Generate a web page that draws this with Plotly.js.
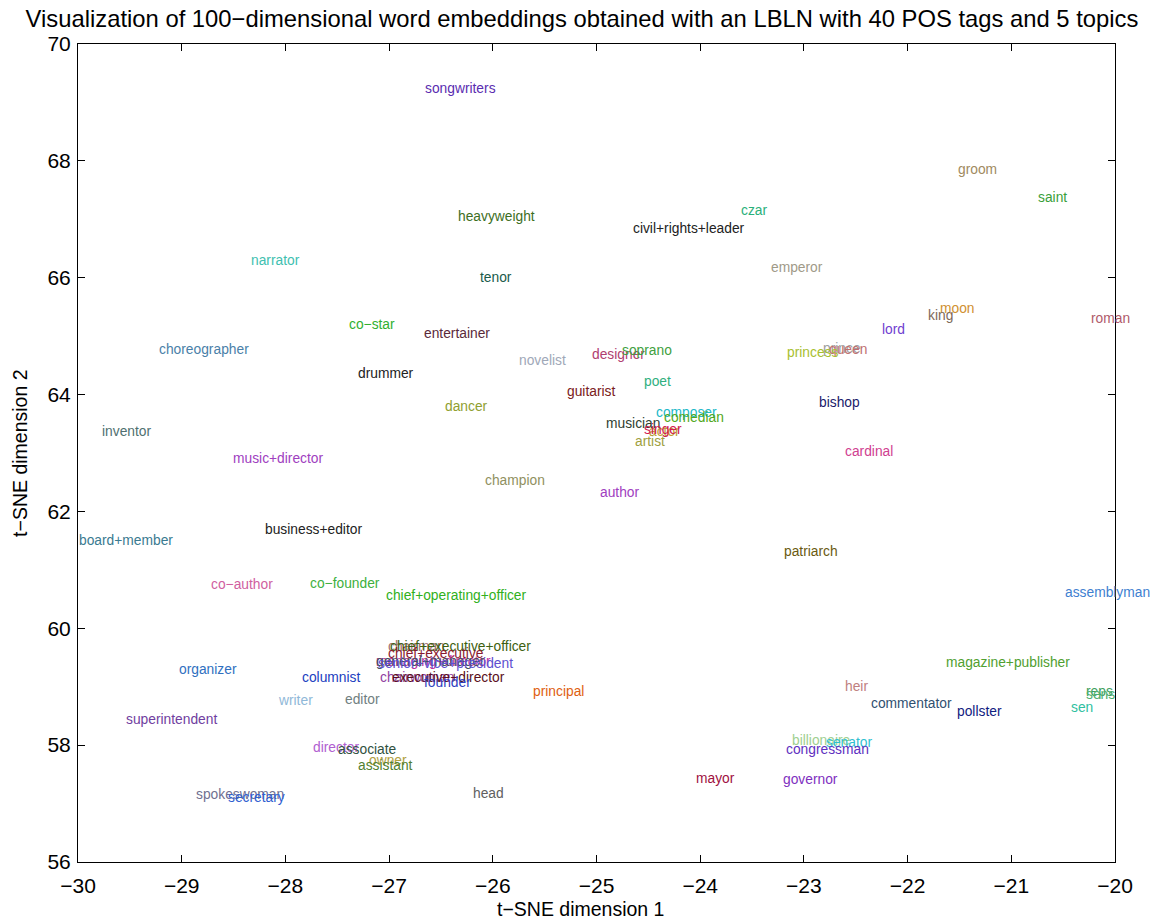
<!DOCTYPE html>
<html>
<head>
<meta charset="utf-8">
<script src="https://cdn.plot.ly/plotly-3.0.1.min.js"></script>
<style>html,body{margin:0;padding:0;background:#fff}#chart{width:1156px;height:923px}</style>
</head>
<body>
<div id="chart"></div>
<script>
const words = [
 "songwriters","groom","saint","czar","heavyweight","civil+rights+leader","narrator","emperor","tenor",
 "moon","king","roman","co−star","lord","entertainer","choreographer","prince","queen","princess",
 "designer","soprano","novelist","drummer","poet","guitarist","dancer","bishop","composer","comedian",
 "musician","actor","singer","artist","inventor","music+director","cardinal","champion","author",
 "business+editor","board+member","patriarch","co−author","co−founder","chief+operating+officer","assemblyman",
 "chairman","chief+executive+officer","chief+executive","managing+director","general+manager","senior+vice+president",
 "chairwoman","executive+director","founder","columnist","organizer","magazine+publisher","principal","heir",
 "commentator","pollster","reps","sens","sen","superintendent","writer","editor","billionaire","senator",
 "congressman","governor","mayor","director","associate","owner","assistant","spokeswoman","secretary","head"
];
const dim1 = [
 -26.654,-21.514,-20.743,-23.607,-26.336,-24.648,-28.332,-23.317,-26.123,
 -21.687,-21.803,-20.232,-27.387,-22.247,-26.663,-29.219,-22.816,-22.758,-23.163,
 -25.043,-24.754,-25.747,-27.300,-24.542,-25.284,-26.461,-22.854,-24.426,-24.349,
 -24.908,-24.493,-24.542,-24.629,-29.769,-28.505,-22.604,-26.075,-24.966,
 -28.197,-29.99,-23.192,-28.717,-27.763,-27.030,-20.482,
 -27.011,-26.990,-27.011,-27.126,-27.126,-27.107,
 -27.088,-26.972,-26.663,-27.840,-29.026,-21.630,-25.612,-22.604,
 -22.353,-21.524,-20.280,-20.280,-20.424,-29.537,-28.071,-27.425,-23.115,-22.787,
 -23.173,-23.201,-24.040,-27.734,-27.493,-27.194,-27.300,-28.862,-28.553,-26.191
];
const dim2 = [
 69.247,67.844,67.381,67.142,67.056,66.834,66.303,66.183,66.012,
 65.465,65.345,65.294,65.191,65.122,65.037,64.780,64.797,64.780,64.712,
 64.694,64.746,64.575,64.369,64.232,64.061,63.804,63.856,63.685,63.616,
 63.497,63.360,63.394,63.189,63.360,62.898,63.034,62.521,62.316,
 61.699,61.494,61.306,60.741,60.775,60.553,60.621,
 59.680,59.680,59.560,59.440,59.425,59.389,
 59.150,59.150,59.080,59.166,59.303,59.423,58.910,59.012,
 58.721,58.584,58.910,58.859,58.636,58.431,58.756,58.773,58.071,58.037,
 57.917,57.404,57.421,57.968,57.934,57.729,57.660,57.147,57.096,57.181
];
const colors = [
 "#5a2db0","#a08a60","#3aa03a","#2ab07a","#3d6e1e","#222222","#40c0b0","#a09a88","#1a5a4a",
 "#d09030","#806a5a","#b05a6a","#30b030","#7040d0","#5a2a3a","#4a80a8","#a0a0a0","#c07070","#a8c030",
 "#b04070","#40a040","#a0a8b8","#222222","#30b080","#7a2020","#90a030","#1a1a6a","#20b8c8","#50a820",
 "#304030","#c0a030","#d02050","#a0a040","#507070","#a040c0","#d04090","#909060","#a040c0",
 "#222222","#3a7a90","#6a5a10","#d060a0","#40b040","#30b020","#4080d0",
 "#a07070","#3d6010","#8a1a30","#c030a0","#405060","#6050d0",
 "#9040a0","#5a1020","#3040c0","#2040c0","#3070c0","#50a030","#e06010","#c08080",
 "#305070","#102080","#40a060","#50b070","#30c0a0","#7040a0","#90b8d8","#708080","#a0d090","#30c0d0",
 "#6030c0","#8030c0","#a01040","#b060d0","#305040","#b0a040","#508030","#707090","#3060d0","#606060"
];
const xTicks = [-30,-29,-28,-27,-26,-25,-24,-23,-22,-21,-20];
const yTicks = [56,58,60,62,64,66,68,70];

const FONT = "Liberation Sans, Arial, Helvetica, sans-serif";
const annotations = words.map((w,i)=>({
  x: dim1[i], y: dim2[i], xref:'x', yref:'y', text: w, showarrow:false,
  xanchor:'left', yanchor:'middle', borderpad:0, borderwidth:0,
  font:{family:FONT,size:13.8,color:colors[i]}
}));
annotations.push({text:"t−SNE dimension 1", xref:'paper', yref:'paper', x:(580-78)/1037, y:-0.058,
  xanchor:'center', yanchor:'middle', showarrow:false, font:{family:FONT,size:19.5,color:'#000'}});
annotations.push({text:"t−SNE dimension 2", xref:'paper', yref:'paper', x:-0.056, y:0.5, textangle:-90,
  xanchor:'center', yanchor:'middle', showarrow:false, font:{family:FONT,size:19.5,color:'#000'}});

const trace = {x:dim1, y:dim2, text:words, mode:'markers', type:'scatter',
  marker:{size:1, opacity:0}, hoverinfo:'text', showlegend:false};

const axisCommon = {showgrid:false, zeroline:false, showline:true, linecolor:'#000', linewidth:1,
  mirror:'ticks', ticks:'inside', ticklen:7, tickcolor:'#000', tickwidth:1,
  tickfont:{family:FONT,size:21,color:'#000'}};

const layout = {
  width:1156, height:923,
  margin:{l:78, r:41, t:44, b:61, pad:0},
  paper_bgcolor:'#fff', plot_bgcolor:'#fff',
  title:{text:"Visualization of 100−dimensional word embeddings obtained with an LBLN with 40 POS tags and 5 topics",
    xref:'container', x:582/1156, xanchor:'center', yref:'container', y:1-19/923, yanchor:'middle',
    font:{family:FONT,size:23.8,color:'#000'}},
  xaxis:Object.assign({}, axisCommon, {range:[-30,-20], tickvals:xTicks, ticklabelstandoff:5,
    ticktext:xTicks.map(v=>v<0?"−"+Math.abs(v):String(v))}),
  yaxis:Object.assign({}, axisCommon, {range:[56,70], tickvals:yTicks, ticklabelstandoff:2}),
  annotations: annotations
};
Plotly.newPlot('chart',[trace],layout,{displayModeBar:false, staticPlot:true});
</script>
</body>
</html>
